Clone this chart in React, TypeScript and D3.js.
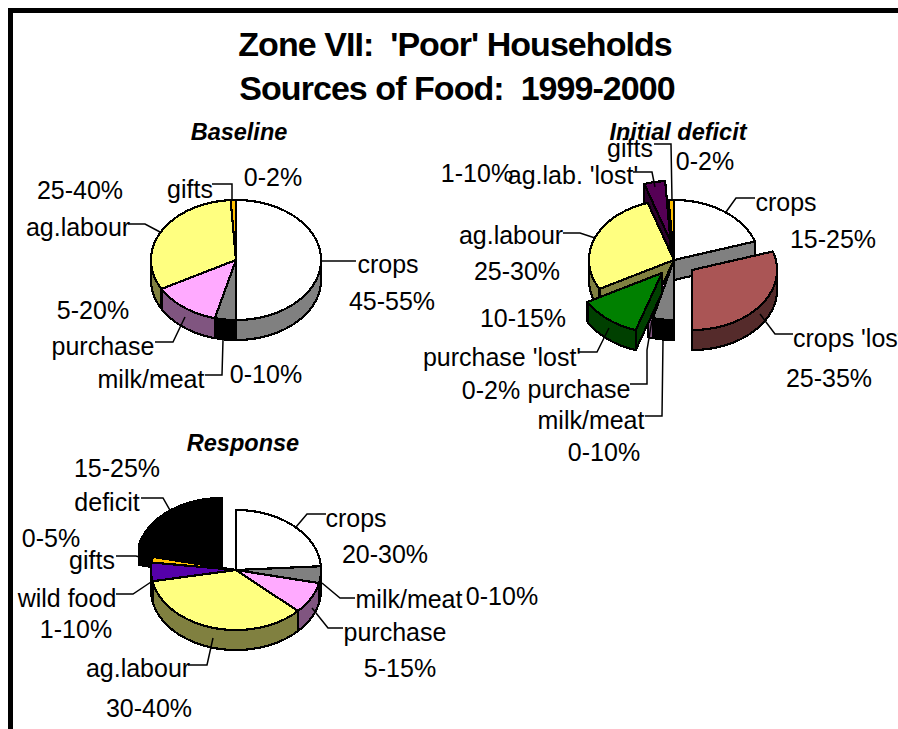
import React from 'react';
import * as d3 from 'd3';

const FONT = '"Liberation Sans", Arial, sans-serif';

// chart values (percent of the pie)
const baselineCategories = ['crops', 'milk/meat', 'purchase', 'ag.labour', 'gifts'];
const baselineValues = [50, 4, 13, 32, 1];

const deficitCategories = ['crops', "crops 'lost'", 'milk/meat', 'purchase', "purchase 'lost'", 'ag.labour', "ag.lab. 'lost'", 'gifts'];
const deficitValues = [20, 30, 4, 1, 12, 28, 4, 1];

const responseCategories = ['crops', 'milk/meat', 'purchase', 'ag.labour', 'wild food', 'gifts', 'deficit'];
const responseValues = [24, 4.5, 8.5, 35, 5, 1.5, 21.5];

// top face / side wall colours
const palette: Record<string, [string, string]> = {
  crops: ['#ffffff', '#808080'],
  "crops 'lost'": ['#aa5555', '#552b2b'],
  'milk/meat': ['#808080', '#000000'],
  purchase: ['#ffaaff', '#805580'],
  "purchase 'lost'": ['#008000', '#004000'],
  'ag.labour': ['#ffff80', '#808040'],
  "ag.lab. 'lost'": ['#550055', '#2b002b'],
  gifts: ['#ffc000', '#806000'],
  'wild food': ['#5500aa', '#2b0055'],
  deficit: ['#000000', '#000000'],
};

// slices pulled out of the pie, in pixels
const deficitOffsets: Record<string, [number, number]> = {
  "crops 'lost'": [18, 10],
  "purchase 'lost'": [-12, 13],
  "ag.lab. 'lost'": [-3.5, -19],
};
const responseOffsets: Record<string, [number, number]> = {
  deficit: [-14, -12],
};

// [text, centre x, centre y]
const baselineLabels: [string, number, number][] = [
  ['25-40%', 80, 191], ['0-2%', 273, 178], ['gifts', 190, 190], ['ag.labour', 78, 228],
  ['crops', 388, 265], ['45-55%', 392, 302], ['5-20%', 93, 311], ['purchase', 103, 347],
  ['milk/meat', 151, 380], ['0-10%', 266, 375],
];
const deficitLabels: [string, number, number][] = [
  ['gifts', 630, 149], ['0-2%', 705, 162], ['1-10%', 477, 174], ["ag.lab. 'lost'", 573, 176],
  ['crops', 786, 203], ['15-25%', 833, 240], ['ag.labour', 511, 236], ['25-30%', 517, 272],
  ['10-15%', 523, 319], ["purchase 'lost'", 502, 358], ['0-2%', 491, 391], ['purchase', 579, 390],
  ['milk/meat', 591, 421], ['0-10%', 604, 453], ['25-35%', 829, 379],
];
const responseLabels: [string, number, number][] = [
  ['15-25%', 117, 469], ['deficit', 107, 503], ['0-5%', 51, 539], ['gifts', 92, 561],
  ['wild food', 67, 599], ['1-10%', 76, 630], ['ag.labour', 138, 669], ['30-40%', 149, 709],
  ['purchase', 395, 633], ['5-15%', 400, 669], ['milk/meat', 409, 600], ['0-10%', 502, 597],
  ['crops', 356, 519], ['20-30%', 385, 555],
];

const baselineLeaders = [
  [[320, 261], [356, 261]], [[212, 184], [232, 184], [232, 200]],
  [[128, 224], [145, 224], [160, 232]], [[155, 342], [173, 342], [185, 317]],
  [[205, 375], [222, 375], [223, 340]],
];
const deficitLeaders = [
  [[654, 144], [671, 144], [672, 200]], [[633, 172], [652, 172], [655, 187]],
  [[755, 198], [736, 198], [726, 212]], [[563, 233], [580, 233], [595, 238]],
  [[578, 352], [597, 352], [609, 328]], [[630, 384], [647, 384], [647, 350], [652, 320]],
  [[645, 416], [662, 416], [663, 340]], [[760, 314], [775, 334], [793, 334]],
];
const responseLeaders = [
  [[141, 498], [163, 498], [171, 512]], [[116, 556], [136, 556], [143, 558]],
  [[116, 594], [133, 594], [151, 582]], [[188, 665], [207, 665], [213, 638]],
  [[343, 628], [328, 628], [312, 608]], [[355, 598], [340, 598], [322, 583]],
  [[326, 514], [307, 514], [296, 527]],
];

const poly = d3.line();

type PieProps = {
  categories: string[];
  values: number[];
  cx: number;
  cy: number;
  rx: number;
  ry: number;
  depth: number;
  offsets?: Record<string, [number, number]>;
};

const Pie3D = ({ categories, values, cx, cy, rx, ry, depth, offsets = {} }: PieProps) => {
  const arcs = d3.pie<number>().sort(null)(values);

  const slices = arcs.map((a, i) => {
    const name = categories[i];
    const [dx, dy] = offsets[name] || [0, 0];
    const ox = cx + dx;
    const oy = cy + dy;
    const pt = (t: number): [number, number] => [ox + rx * Math.sin(t), oy - ry * Math.cos(t)];
    const rim = (from: number, to: number) => {
      const n = Math.max(2, Math.ceil((to - from) / 0.03));
      return d3.range(n + 1).map(k => pt(from + ((to - from) * k) / n));
    };
    const down = (p: [number, number]): [number, number] => [p[0], p[1] + depth];
    const walls: string[] = [];
    if (Math.sin(a.startAngle) < -1e-6) {
      walls.push(poly([[ox, oy], pt(a.startAngle), down(pt(a.startAngle)), [ox, oy + depth]]) + 'Z');
    }
    if (Math.sin(a.endAngle) > 1e-6) {
      walls.push(poly([[ox, oy], pt(a.endAngle), down(pt(a.endAngle)), [ox, oy + depth]]) + 'Z');
    }
    const from = Math.max(a.startAngle, Math.PI / 2);
    const to = Math.min(a.endAngle, (3 * Math.PI) / 2);
    if (to > from) {
      const upper = rim(from, to);
      walls.push(poly([...upper, ...upper.map(down).reverse()]) + 'Z');
    }
    const top = poly([[ox, oy], ...rim(a.startAngle, a.endAngle)]) + 'Z';
    const mid = (a.startAngle + a.endAngle) / 2;
    return { name, walls, top, order: oy - ry * Math.cos(mid) * 0.5 };
  });

  const ordered = d3.sort(slices, s => s.order);

  return (
    <g stroke="#000" strokeWidth={2.2} strokeLinejoin="round" shapeRendering="crispEdges">
      {ordered.map(s => (
        <g key={s.name}>
          {s.walls.map((d, i) => <path key={i} d={d} fill={palette[s.name][1]} />)}
          <path d={s.top} fill={palette[s.name][0]} />
        </g>
      ))}
    </g>
  );
};

const Labels = ({ items }: { items: [string, number, number][] }) => (
  <g fontFamily={FONT} fontSize={25} fill="#000" textAnchor="middle">
    {items.map(([t, x, y], i) => (
      <text key={i} x={x} y={y + 8}>{t}</text>
    ))}
  </g>
);

const Leaders = ({ lines }: { lines: number[][][] }) => (
  <g fill="none" stroke="#000" strokeWidth={1.5}>
    {lines.map((l, i) => <path key={i} d={poly(l as [number, number][]) || ''} />)}
  </g>
);

export default function App() {
  const sub = { fontFamily: FONT, fontSize: 23.5, fontWeight: 700, fontStyle: 'italic', textAnchor: 'middle' } as const;
  const title = { fontFamily: FONT, fontSize: 34, fontWeight: 700, textAnchor: 'middle', letterSpacing: '-0.95px' } as const;
  return (
    <svg
      width={898}
      height={729}
      style={{ position: 'absolute', left: 0, top: 0, display: 'block', background: '#fff' }}
    >
      <rect x={8} y={8} width={900} height={5} fill="#000" />
      <rect x={8} y={8} width={5} height={721} fill="#000" />

      <text x={455} y={56} {...title} xmlSpace="preserve">{"Zone VII:  'Poor' Households"}</text>
      <text x={457} y={100} {...title} xmlSpace="preserve">{'Sources of Food:  1999-2000'}</text>

      <Pie3D categories={baselineCategories} values={baselineValues} cx={236} cy={260} rx={85} ry={60} depth={20} />
      <Pie3D categories={deficitCategories} values={deficitValues} cx={674} cy={260} rx={85} ry={60} depth={20} offsets={deficitOffsets} />
      <Pie3D categories={responseCategories} values={responseValues} cx={236} cy={570} rx={85} ry={60} depth={20} offsets={responseOffsets} />

      <Leaders lines={baselineLeaders} />
      <Leaders lines={deficitLeaders} />
      <Leaders lines={responseLeaders} />

      <text x={239} y={140} {...sub}>Baseline</text>
      <text x={678} y={140} {...sub}>Initial deficit</text>
      <text x={243} y={451} {...sub}>Response</text>

      <Labels items={baselineLabels} />
      <Labels items={deficitLabels} />
      <Labels items={responseLabels} />
      <text x={793} y={347} fontFamily={FONT} fontSize={25}>crops 'lost'</text>
    </svg>
  );
}
